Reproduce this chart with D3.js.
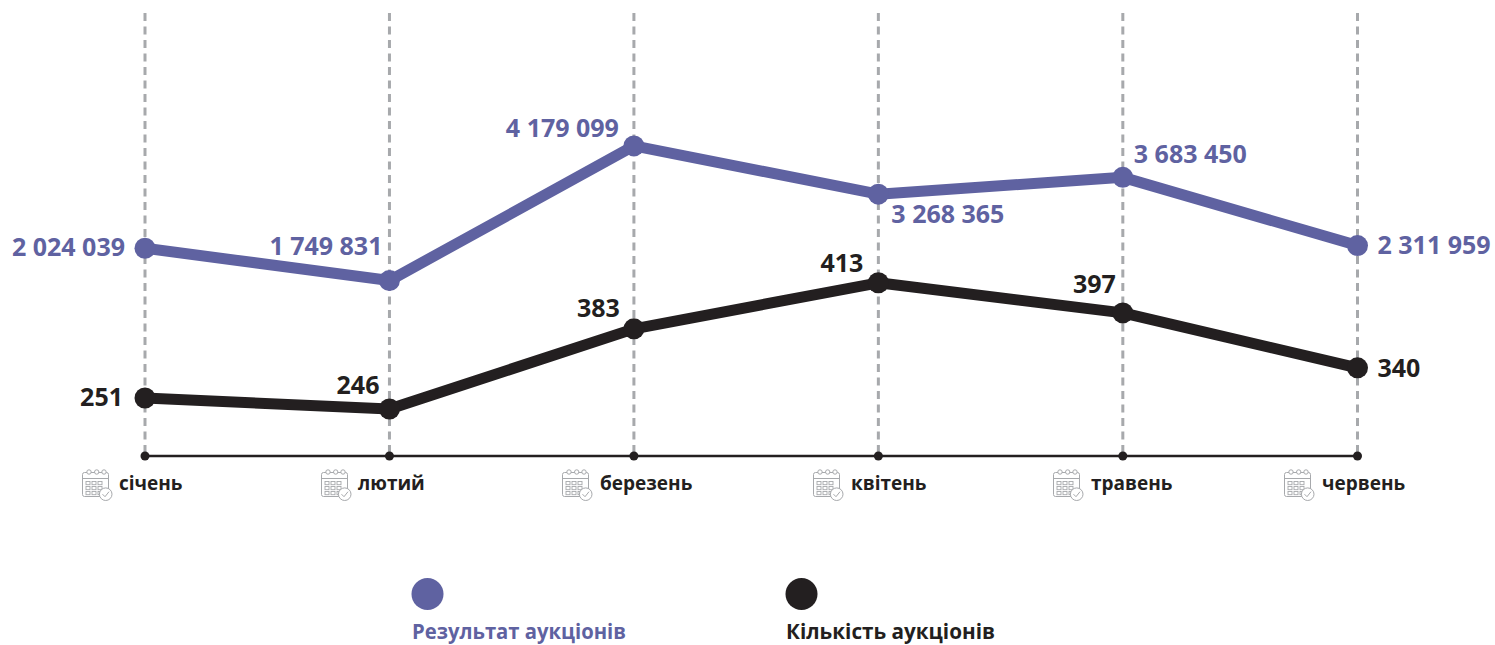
<!DOCTYPE html>
<html>
<head>
<meta charset="utf-8">
<script src="https://cdn.jsdelivr.net/npm/d3@7"></script>
<style>
  html, body { margin: 0; padding: 0; background: #fff; }
  text { font-family: "Open Sans", "Noto Sans", sans-serif; font-weight: 700; }
</style>
</head>
<body>
<div id="wrapper"></div>
<script>
// months and where they sit along the axis (the last interval is a bit shorter in the original)
const months = ["січень", "лютий", "березень", "квітень", "травень", "червень"]
const monthSlots = [0, 1, 2, 3, 4, 4.96]

const seriesNames = ["Результат аукціонів", "Кількість аукціонів"]

// printed values
const resultValues = ["2 024 039", "1 749 831", "4 179 099", "3 268 365", "3 683 450", "2 311 959"]
const countValues = [251, 246, 383, 413, 397, 340]

// the original is not drawn to scale, so these are the line heights read off the picture (% of plot height)
const resultLevels = [46.9, 39.6, 70.0, 59.1, 62.9, 47.5]
const countLevels = [13.1, 10.6, 28.7, 39.1, 32.3, 19.9]

const resultColor = "#5f62a1"
const countColor = "#231f20"

const dimensions = { width: 1495, height: 645 }

const xScale = d3.scaleLinear().domain([0, 4.96]).range([145, 1357.5])
const yScale = d3.scaleLinear().domain([0, 100]).range([456, 13])

const wrapper = d3.select("#wrapper")
  .append("svg")
    .attr("width", dimensions.width)
    .attr("height", dimensions.height)
    .style("display", "block")

// dashed month guides
wrapper.append("g").selectAll("line")
  .data(monthSlots)
  .join("line")
    .attr("x1", d => xScale(d))
    .attr("x2", d => xScale(d))
    .attr("y1", yScale(100))
    .attr("y2", yScale(0))
    .attr("stroke", "#a7a9ac")
    .attr("stroke-width", 3)
    .attr("stroke-dasharray", "8 5.5")

// bottom axis
wrapper.append("line")
  .attr("x1", xScale(0))
  .attr("x2", xScale(4.96))
  .attr("y1", yScale(0))
  .attr("y2", yScale(0))
  .attr("stroke", countColor)
  .attr("stroke-width", 2.5)

wrapper.append("g").selectAll("circle")
  .data(monthSlots)
  .join("circle")
    .attr("cx", d => xScale(d))
    .attr("cy", yScale(0))
    .attr("r", 4.5)
    .attr("fill", countColor)

// month labels with the little calendar icon
const iconX = [82, 321, 562, 813, 1053, 1284]
const monthLabelX = [119, 358, 600, 851, 1091, 1322]
const grey = "#a7a9ac"

function drawCalendar(g) {
  g.append("rect").attr("x", 0.5).attr("y", 3.5).attr("width", 26).attr("height", 24).attr("rx", 2)
    .attr("fill", "#fff").attr("stroke", grey).attr("stroke-width", 1)
  g.append("line").attr("x1", 0.5).attr("x2", 26.5).attr("y1", 9.5).attr("y2", 9.5)
    .attr("stroke", grey).attr("stroke-width", 1)
  g.selectAll(".ring").data([7, 14.7, 22]).join("circle").attr("class", "ring")
    .attr("cx", d => d).attr("cy", 3).attr("r", 2.2)
    .attr("fill", "#fff").attr("stroke", grey).attr("stroke-width", 1)
  const cells = d3.cross([4, 10, 16], [12.5, 17.5, 22.5])
  g.selectAll(".cell").data(cells).join("rect").attr("class", "cell")
    .attr("x", d => d[0]).attr("y", d => d[1]).attr("width", 4).attr("height", 3.2)
    .attr("fill", "none").attr("stroke", grey).attr("stroke-width", 0.9)
  g.append("circle").attr("cx", 23.7).attr("cy", 25.2).attr("r", 6.3)
    .attr("fill", "#fff").attr("stroke", grey).attr("stroke-width", 1)
  g.append("path").attr("d", d3.line()([[20.5, 25.2], [23, 27.7], [27, 22.7]]))
    .attr("fill", "none").attr("stroke", grey).attr("stroke-width", 1)
}

months.forEach((m, i) => {
  const icon = wrapper.append("g").attr("transform", `translate(${iconX[i]},469)`)
  drawCalendar(icon)
  wrapper.append("text")
    .attr("x", monthLabelX[i])
    .attr("y", 490)
    .attr("font-size", 19)
    .attr("fill", countColor)
    .text(m)
})

// lines
const line = d3.line()
  .x((d, i) => xScale(monthSlots[i]))
  .y(d => yScale(d))

function drawSeries(levels, color) {
  wrapper.append("path")
    .datum(levels)
    .attr("d", line)
    .attr("fill", "none")
    .attr("stroke", color)
    .attr("stroke-width", 11)
    .attr("stroke-linejoin", "round")
  wrapper.append("g").selectAll("circle")
    .data(levels)
    .join("circle")
      .attr("cx", (d, i) => xScale(monthSlots[i]))
      .attr("cy", d => yScale(d))
      .attr("r", 10.5)
      .attr("fill", color)
}
drawSeries(resultLevels, resultColor)
drawSeries(countLevels, countColor)

// value labels, offset from their points by hand like in the original
const resultOffsets = [[-20, 8], [-7, -26], [-15, -9], [13, 29], [11, -14], [20, 8.5]]
const countOffsets = [[-22, 8], [-10, -15], [-14, -12], [-15, -11], [-7, -20], [20, 9]]

function drawLabels(values, levels, offsets, color) {
  wrapper.append("g").selectAll("text")
    .data(values)
    .join("text")
      .attr("x", (d, i) => xScale(monthSlots[i]) + offsets[i][0])
      .attr("y", (d, i) => yScale(levels[i]) + offsets[i][1])
      .attr("text-anchor", (d, i) => offsets[i][0] < 0 ? "end" : "start")
      .attr("font-size", 25)
      .attr("fill", color)
      .text(d => d)
}
drawLabels(resultValues, resultLevels, resultOffsets, resultColor)
drawLabels(countValues, countLevels, countOffsets, countColor)

// legend
const legendColors = [resultColor, countColor]
const legendX = [412, 786]
const legendY = [638.5, 639]
const legendWidths = [214, 209]

wrapper.append("g").selectAll("circle")
  .data(seriesNames)
  .join("circle")
    .attr("cx", (d, i) => legendX[i] + 15.5)
    .attr("cy", 594)
    .attr("r", 16)
    .attr("fill", (d, i) => legendColors[i])

wrapper.append("g").selectAll("text")
  .data(seriesNames)
  .join("text")
    .attr("x", (d, i) => legendX[i])
    .attr("y", (d, i) => legendY[i])
    .attr("font-size", 21)
    .attr("textLength", (d, i) => legendWidths[i])
    .attr("lengthAdjust", "spacingAndGlyphs")
    .attr("fill", (d, i) => legendColors[i])
    .text(d => d)
</script>
</body>
</html>
